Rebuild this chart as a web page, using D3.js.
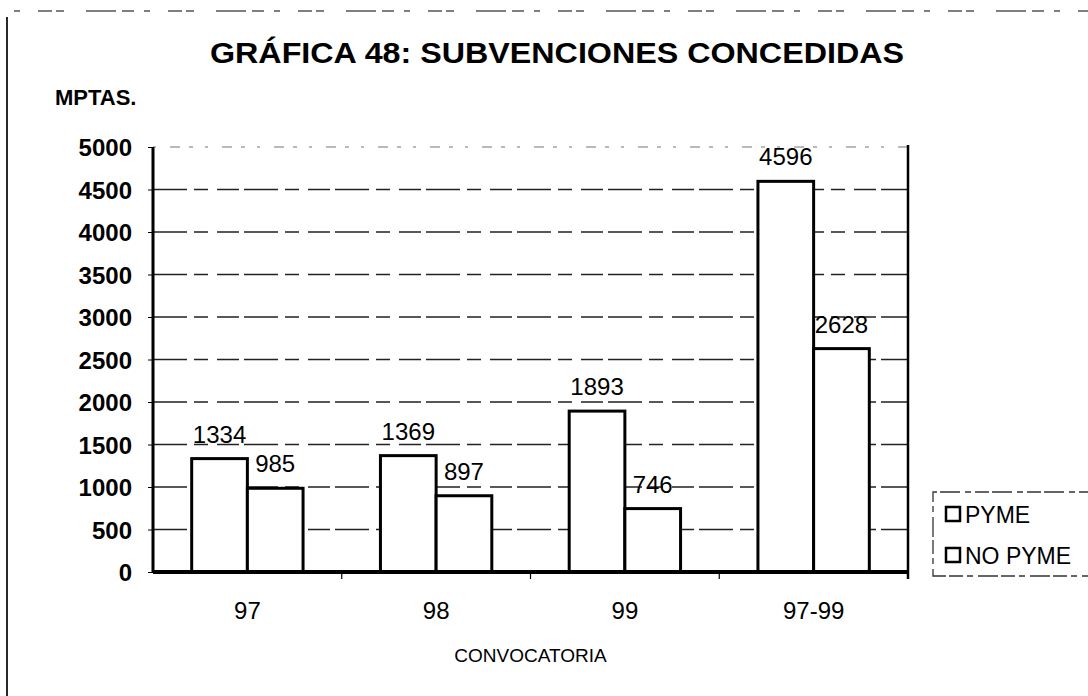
<!DOCTYPE html>
<html>
<head>
<meta charset="utf-8">
<script src="https://cdn.jsdelivr.net/npm/d3@7"></script>
<style>
  html, body { margin: 0; padding: 0; background: #fff; }
  svg { display: block; font-family: "Liberation Sans", Arial, sans-serif; }
</style>
</head>
<body>
<svg id="chart" width="1088" height="696"></svg>
<script>
// Subvenciones concedidas por convocatoria (millones de pesetas)
const categories = ["97", "98", "99", "97-99"];
const seriesNames = ["PYME", "NO PYME"];
const pymeValues = [1334, 1369, 1893, 4596];
const noPymeValues = [985, 897, 746, 2628];
const yTickValues = [0, 500, 1000, 1500, 2000, 2500, 3000, 3500, 4000, 4500, 5000];

const title = "GRÁFICA 48: SUBVENCIONES CONCEDIDAS";
const yUnit = "MPTAS.";
const xTitle = "CONVOCATORIA";

const rows = categories.map((c, i) => ({
  cat: c,
  values: [
    { key: seriesNames[0], value: pymeValues[i] },
    { key: seriesNames[1], value: noPymeValues[i] }
  ]
}));

const svg = d3.select("#chart");

const plot = { left: 153, right: 908, top: 147, bottom: 572 };

const y = d3.scaleLinear().domain([0, 5000]).range([plot.bottom, plot.top]);
const x = d3.scaleBand().domain(categories)
  .range([plot.left, plot.right])
  .paddingInner(0.41).paddingOuter(0.205);
const xs = d3.scaleBand().domain(seriesNames).range([0, x.bandwidth()]);

// page frame
svg.append("line")
  .attr("x1", 14).attr("x2", 1088).attr("y1", 11).attr("y2", 11)
  .attr("stroke", "#555").attr("stroke-width", 1.5)
  .attr("stroke-dasharray", "6,18,14,4,8,22,30,6,12,10");
svg.append("line")
  .attr("x1", 7).attr("x2", 7).attr("y1", 17).attr("y2", 696)
  .attr("stroke", "#111").attr("stroke-width", 1.8);

// title
svg.append("text")
  .attr("x", 210).attr("y", 63)
  .attr("font-size", 29).attr("font-weight", "bold")
  .attr("textLength", 694).attr("lengthAdjust", "spacingAndGlyphs")
  .text(title);

svg.append("text")
  .attr("x", 55).attr("y", 105)
  .attr("font-size", 22).attr("font-weight", "bold")
  .text(yUnit);

// horizontal gridlines
svg.append("g")
  .selectAll("line")
  .data(yTickValues.filter(v => v > 0))
  .join("line")
  .attr("x1", plot.left).attr("x2", plot.right)
  .attr("y1", d => y(d)).attr("y2", d => y(d))
  .attr("stroke", (d) => d === 5000 ? "#777" : "#222")
  .attr("stroke-width", (d) => d === 5000 ? 1.2 : 1.6)
  .attr("stroke-dasharray", (d) => d === 5000 ? "3,14,10,9,4,12" : "34,7,14,9,22,5");

// y axis
const yAxis = svg.append("g")
  .attr("transform", `translate(${plot.left},0)`)
  .call(d3.axisLeft(y).tickValues(yTickValues).tickSize(5).tickPadding(16).tickFormat(d3.format("d")));
yAxis.select(".domain").attr("stroke", "#000").attr("stroke-width", 3)
  .attr("d", `M0,${plot.top}V${plot.bottom}`);
yAxis.selectAll(".tick line").attr("stroke", "#000").attr("stroke-width", 1);
yAxis.selectAll(".tick text")
  .attr("font-size", 24).attr("font-weight", "bold")
  .attr("font-family", "Liberation Sans, Arial, sans-serif")
  .attr("fill", "#000").attr("dy", "0.36em");

// bars
const groups = svg.append("g")
  .selectAll("g")
  .data(rows)
  .join("g")
  .attr("transform", d => `translate(${x(d.cat)},0)`);

groups.selectAll("rect")
  .data(d => d.values)
  .join("rect")
  .attr("x", d => xs(d.key))
  .attr("y", d => y(d.value))
  .attr("width", xs.bandwidth())
  .attr("height", d => y(0) - y(d.value))
  .attr("fill", "#fff")
  .attr("stroke", "#000")
  .attr("stroke-width", 3);

groups.selectAll("text")
  .data(d => d.values)
  .join("text")
  .attr("x", d => xs(d.key) + xs.bandwidth() / 2)
  .attr("y", d => y(d.value) - 16)
  .attr("text-anchor", "middle")
  .attr("font-size", 24)
  .text(d => d.value);

// right border of plot area
svg.append("line")
  .attr("x1", plot.right).attr("x2", plot.right)
  .attr("y1", plot.top - 2).attr("y2", plot.bottom + 7)
  .attr("stroke", "#000").attr("stroke-width", 2.5);

// x axis
const xAxis = svg.append("g")
  .attr("transform", `translate(0,${plot.bottom})`)
  .call(d3.axisBottom(x).tickSize(0).tickPadding(30));
xAxis.select(".domain").attr("stroke", "#000").attr("stroke-width", 4)
  .attr("d", `M${plot.left},0H${plot.right}`);
xAxis.selectAll(".tick text")
  .attr("font-size", 24)
  .attr("font-family", "Liberation Sans, Arial, sans-serif")
  .attr("fill", "#000");

// category boundary ticks
svg.append("g")
  .selectAll("line")
  .data(categories.slice(1))
  .join("line")
  .attr("x1", d => x(d) - x.step() * x.paddingInner() / 2)
  .attr("x2", d => x(d) - x.step() * x.paddingInner() / 2)
  .attr("y1", plot.bottom).attr("y2", plot.bottom + 7)
  .attr("stroke", "#000").attr("stroke-width", 1.2);

svg.append("text")
  .attr("x", (plot.left + plot.right) / 2).attr("y", 662)
  .attr("text-anchor", "middle")
  .attr("font-size", 19)
  .text(xTitle);

// legend
const legend = svg.append("g").attr("transform", "translate(933,492)");
legend.append("path")
  .attr("d", "M160,0H0V84H160")
  .attr("fill", "none")
  .attr("stroke", "#333").attr("stroke-width", 1.3)
  .attr("stroke-dasharray", "14,4,6,5,20,3");
const legItems = legend.selectAll("g.item")
  .data(seriesNames)
  .join("g")
  .attr("class", "item")
  .attr("transform", (d, i) => `translate(0,${22 + i * 41})`);
legItems.append("rect")
  .attr("x", 13).attr("y", -7).attr("width", 14).attr("height", 14)
  .attr("fill", "#fff").attr("stroke", "#000").attr("stroke-width", 2.5);
legItems.append("text")
  .attr("x", 32).attr("y", 8.5)
  .attr("font-size", 23)
  .text(d => d);
</script>
</body>
</html>
